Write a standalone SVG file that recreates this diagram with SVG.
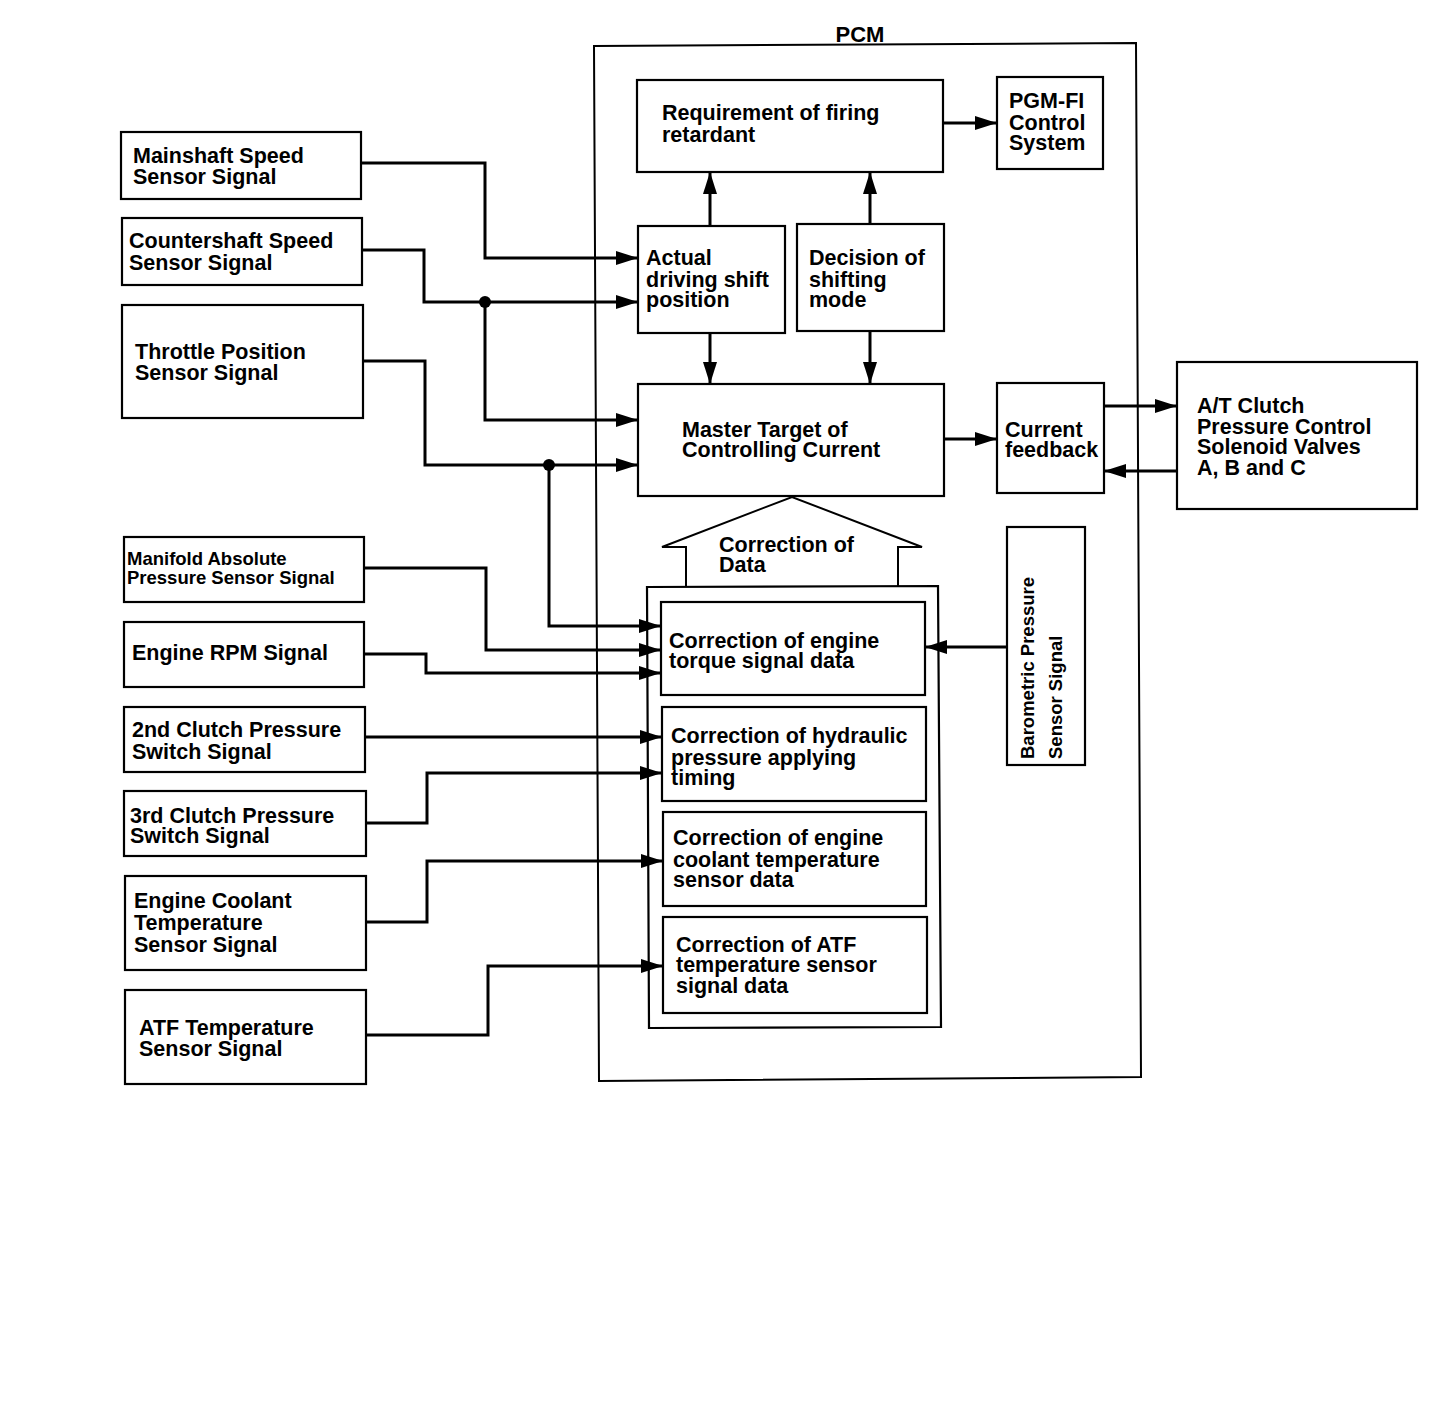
<svg xmlns="http://www.w3.org/2000/svg" width="1456" height="1406" viewBox="0 0 1456 1406">
<defs>
<style>
.box{fill:#fff;stroke:#000;stroke-width:2.2}
.t{font-family:"Liberation Sans",Arial,sans-serif;font-weight:bold;font-size:21.5px;fill:#000}
.s{font-size:18.5px}
.c{fill:none;stroke:#000;stroke-width:3}
</style>
<marker id="ah" markerUnits="userSpaceOnUse" markerWidth="24" markerHeight="16" refX="22" refY="7" orient="auto">
<path d="M0,0 L22,7 L0,14 z" fill="#000"/>
</marker>
</defs>
<rect width="1456" height="1406" fill="#fff"/>

<g id="pcm">
<polygon points="594,46 1136,43 1141,1077 599,1081" fill="none" stroke="#000" stroke-width="2"/>
<text class="t" x="860" y="42" text-anchor="middle" style="font-size:22px">PCM</text>
</g>

<g id="mainshaft"><rect class="box" x="121" y="132" width="240" height="67"/><text class="t" x="133" y="163">Mainshaft Speed</text><text class="t" x="133" y="184">Sensor Signal</text></g>
<g id="countershaft"><rect class="box" x="122" y="218" width="240" height="67"/><text class="t" x="129" y="248">Countershaft Speed</text><text class="t" x="129" y="270">Sensor Signal</text></g>
<g id="throttle"><rect class="box" x="122" y="305" width="241" height="113"/><text class="t" x="135" y="359">Throttle Position</text><text class="t" x="135" y="380">Sensor Signal</text></g>
<g id="manifold"><rect class="box" x="124" y="537" width="240" height="65"/><text class="t s" x="127" y="565">Manifold Absolute</text><text class="t s" x="127" y="584">Pressure Sensor Signal</text></g>
<g id="rpm"><rect class="box" x="124" y="622" width="240" height="65"/><text class="t" x="132" y="660">Engine RPM Signal</text></g>
<g id="clutch2"><rect class="box" x="124" y="707" width="241" height="65"/><text class="t" x="132" y="737">2nd Clutch Pressure</text><text class="t" x="132" y="759">Switch Signal</text></g>
<g id="clutch3"><rect class="box" x="124" y="791" width="242" height="65"/><text class="t" x="130" y="823">3rd Clutch Pressure</text><text class="t" x="130" y="843">Switch Signal</text></g>
<g id="coolant"><rect class="box" x="125" y="876" width="241" height="94"/><text class="t" x="134" y="908">Engine Coolant</text><text class="t" x="134" y="930">Temperature</text><text class="t" x="134" y="952">Sensor Signal</text></g>
<g id="atf"><rect class="box" x="125" y="990" width="241" height="94"/><text class="t" x="139" y="1035">ATF Temperature</text><text class="t" x="139" y="1056">Sensor Signal</text></g>

<g id="firing"><rect class="box" x="637" y="80" width="306" height="92"/><text class="t" x="662" y="120">Requirement of firing</text><text class="t" x="662" y="142">retardant</text></g>
<g id="pgmfi"><rect class="box" x="997" y="77" width="106" height="92"/><text class="t" x="1009" y="108">PGM-FI</text><text class="t" x="1009" y="130">Control</text><text class="t" x="1009" y="150">System</text></g>
<g id="actual"><rect class="box" x="638" y="226" width="147" height="107"/><text class="t" x="646" y="265">Actual</text><text class="t" x="646" y="287">driving shift</text><text class="t" x="646" y="307">position</text></g>
<g id="decision"><rect class="box" x="797" y="224" width="147" height="107"/><text class="t" x="809" y="265">Decision of</text><text class="t" x="809" y="287">shifting</text><text class="t" x="809" y="307">mode</text></g>
<g id="master"><rect class="box" x="638" y="384" width="306" height="112"/><text class="t" x="682" y="437">Master Target of</text><text class="t" x="682" y="457">Controlling Current</text></g>
<g id="feedback"><rect class="box" x="997" y="383" width="107" height="110"/><text class="t" x="1005" y="437">Current</text><text class="t" x="1005" y="457">feedback</text></g>
<g id="solenoid"><rect class="box" x="1177" y="362" width="240" height="147"/><text class="t" x="1197" y="413">A/T Clutch</text><text class="t" x="1197" y="434">Pressure Control</text><text class="t" x="1197" y="454">Solenoid Valves</text><text class="t" x="1197" y="475">A, B and C</text></g>

<g id="correction-data">
<polyline points="686,588 686,547 662,547 792,497 922,547 898,547 898,588" fill="#fff" stroke="#000" stroke-width="2"/>
<text class="t" x="719" y="552">Correction of</text><text class="t" x="719" y="572">Data</text>
</g>
<g id="correction-group">
<polygon points="647,587 938,586 941,1027 649,1028" class="box"/>
</g>
<g id="corr-torque"><rect class="box" x="661" y="602" width="264" height="93"/><text class="t" x="669" y="648">Correction of engine</text><text class="t" x="669" y="668">torque signal data</text></g>
<g id="corr-hydraulic"><rect class="box" x="662" y="707" width="264" height="94"/><text class="t" x="671" y="743">Correction of hydraulic</text><text class="t" x="671" y="765">pressure applying</text><text class="t" x="671" y="785">timing</text></g>
<g id="corr-coolant"><rect class="box" x="663" y="812" width="263" height="94"/><text class="t" x="673" y="845">Correction of engine</text><text class="t" x="673" y="867">coolant temperature</text><text class="t" x="673" y="887">sensor data</text></g>
<g id="corr-atf"><rect class="box" x="663" y="917" width="264" height="96"/><text class="t" x="676" y="952">Correction of ATF</text><text class="t" x="676" y="972">temperature sensor</text><text class="t" x="676" y="993">signal data</text></g>
<g id="barometric"><rect class="box" x="1007" y="527" width="78" height="238"/>
<text class="t" style="font-size:18.5px" transform="translate(1034,759) rotate(-90)">Barometric Pressure</text>
<text class="t" style="font-size:18.5px" transform="translate(1062,759) rotate(-90)">Sensor Signal</text>
</g>

<g id="connectors">
<path class="c" marker-end="url(#ah)" d="M361,163 H485 V258 H638"/>
<path class="c" marker-end="url(#ah)" d="M362,250 H424 V302 H638"/>
<path class="c" marker-end="url(#ah)" d="M485,302 V420 H638"/>
<path class="c" marker-end="url(#ah)" d="M363,361 H425 V465 H638"/>
<path class="c" marker-end="url(#ah)" d="M549,465 V626 H661"/>
<path class="c" marker-end="url(#ah)" d="M364,568 H486 V650 H661"/>
<path class="c" marker-end="url(#ah)" d="M364,654 H426 V673 H661"/>
<path class="c" marker-end="url(#ah)" d="M365,737 H662"/>
<path class="c" marker-end="url(#ah)" d="M366,823 H427 V773 H662"/>
<path class="c" marker-end="url(#ah)" d="M366,922 H427 V861 H663"/>
<path class="c" marker-end="url(#ah)" d="M366,1035 H488 V966 H663"/>
<path class="c" marker-end="url(#ah)" d="M710,226 V172"/>
<path class="c" marker-end="url(#ah)" d="M870,224 V172"/>
<path class="c" marker-end="url(#ah)" d="M710,333 V384"/>
<path class="c" marker-end="url(#ah)" d="M870,331 V384"/>
<path class="c" marker-end="url(#ah)" d="M943,123 H997"/>
<path class="c" marker-end="url(#ah)" d="M944,439 H997"/>
<path class="c" marker-end="url(#ah)" d="M1104,406 H1177"/>
<path class="c" marker-end="url(#ah)" d="M1177,471 H1104"/>
<path class="c" marker-end="url(#ah)" d="M1007,647 H925"/>
<circle cx="485" cy="302" r="6"/>
<circle cx="549" cy="465" r="6"/>
</g>
</svg>
